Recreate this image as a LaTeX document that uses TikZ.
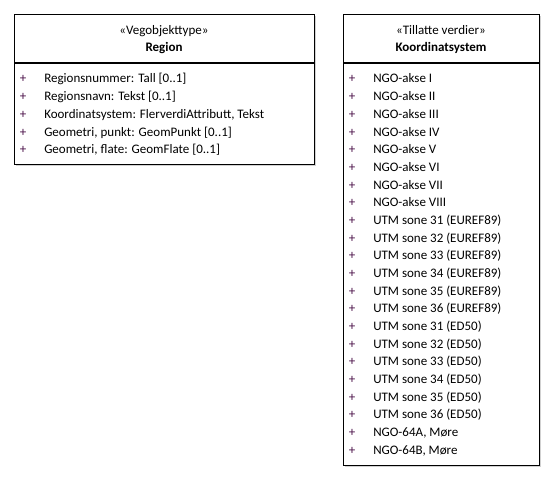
\documentclass[tikz,border=0pt]{standalone}
\usepackage{fontspec}
\setmainfont{Carlito}
\usetikzlibrary{shadows}
\definecolor{visred}{HTML}{4A1048}
\definecolor{shadowgray}{HTML}{9A9A9A}
\begin{document}
\begin{tikzpicture}[x=0.75pt,y=-0.75pt,
  classbox/.style={draw=black, line width=0.9pt, fill=white, anchor=north west,
    inner sep=0pt,
    drop shadow={shadow xshift=1.1pt, shadow yshift=-1.1pt, opacity=0.45, fill=shadowgray}},
  umltext/.style={font=\fontsize{9.75}{11}\selectfont, inner sep=0pt},
  stereo/.style={umltext, anchor=base},
  cname/.style={umltext, font=\fontsize{9.75}{11}\selectfont\bfseries, anchor=base},
  attr/.style={umltext, anchor=base west},
  vis/.style={umltext, anchor=base, text=visred},
  divider/.style={draw=black, line width=0.9pt}]
\useasboundingbox (0,0) rectangle (556,481);

% ---------- class Region ----------
\node[classbox, minimum width=225pt, minimum height=112.5pt] (region) at (14,14) {};
\draw[divider] (14,63) -- (314,63);
\node[stereo] (regionStereo) at (164,35) {«Vegobjekttype»};
\node[cname] (regionName) at (164,52) {Region};
\foreach \txt [count=\i from 0] in {
    Regionsnummer: Tall [0..1],
    Regionsnavn: Tekst [0..1],
    {Koordinatsystem: FlerverdiAttributt, Tekst},
    {Geometri, punkt: GeomPunkt [0..1]},
    {Geometri, flate: GeomFlate [0..1]}} {
  \node[vis] (regionVis\i) at (23,83+17.67*\i) {+};
  \node[attr] (regionAttr\i) at (44,83+17.67*\i) {\txt};
}

% ---------- enumeration Koordinatsystem ----------
\node[classbox, minimum width=147pt, minimum height=338.25pt] (koord) at (343,14) {};
\draw[divider] (343,63) -- (539,63);
\node[stereo] (koordStereo) at (441,35) {«Tillatte verdier»};
\node[cname] (koordName) at (441,52) {Koordinatsystem};
\foreach \txt [count=\i from 0] in {
    NGO-akse I, NGO-akse II, NGO-akse III, NGO-akse IV,
    NGO-akse V, NGO-akse VI, NGO-akse VII, NGO-akse VIII,
    UTM sone 31 (EUREF89), UTM sone 32 (EUREF89), UTM sone 33 (EUREF89),
    UTM sone 34 (EUREF89), UTM sone 35 (EUREF89), UTM sone 36 (EUREF89),
    UTM sone 31 (ED50), UTM sone 32 (ED50), UTM sone 33 (ED50),
    UTM sone 34 (ED50), UTM sone 35 (ED50), UTM sone 36 (ED50),
    {NGO-64A, Møre}, {NGO-64B, Møre}} {
  \node[vis] (koordVis\i) at (352,83+17.67*\i) {+};
  \node[attr] (koordVal\i) at (373,83+17.67*\i) {\txt};
}
\end{tikzpicture}
\end{document}
